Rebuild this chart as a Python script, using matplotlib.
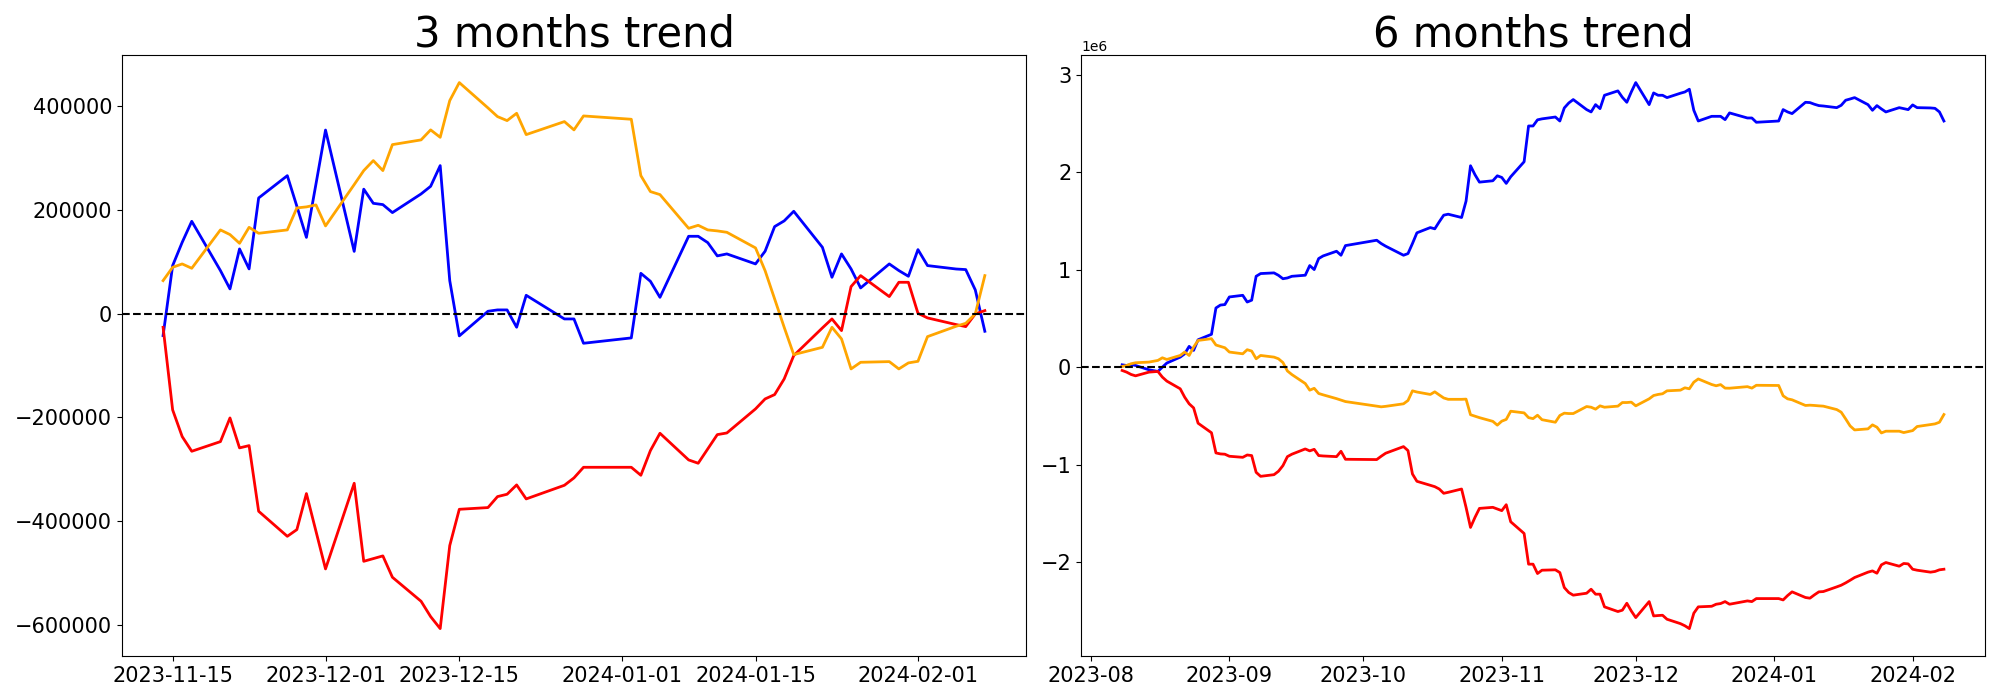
import numpy as np
import pandas as pd
import matplotlib
matplotlib.use("Agg")
import matplotlib.pyplot as plt

# market holidays (no trading -> straight segments in the chart)
holidays = ['2023-08-15', '2023-09-28', '2023-09-29', '2023-10-02', '2023-10-03',
            '2023-10-09', '2023-12-25', '2023-12-29', '2024-01-01']

dates_3m = pd.bdate_range('2023-11-14', '2024-02-08', freq='C', holidays=holidays)
dates_6m = pd.bdate_range('2023-08-08', '2024-02-08', freq='C', holidays=holidays)

# ---- 3 months ----
blue_3m = [-42400, 92600, 137500, 178000, 83000, 47600, 124700, 86200, 223000, 266000, 207000, 147000, 250000,
           354000, 120000, 240000, 212700, 210200, 194800, 230800, 245500, 285400, 63600, -43000, 4500, 7100,
           7100, -26300, 35300, -10300, -10300, -57200,
           -46900, 77700, 62300, 31400, 149100, 149100, 136900, 111300, 115100, 95800, 120200, 167800, 178800,
           197300, 127900, 70000, 115100, 86100, 49500, 95800, 83000, 72000,
           123400, 92600, 86000, 84900, 45700, -34100]
orange_3m = [63600, 89300, 95800, 87400, 161400, 152400, 135600, 166400, 154900, 161400, 203800, 205800, 209600,
             169100, 248800, 275800, 295100, 275800, 325900, 335000, 354300, 340000, 410800, 445500, 396700, 379900,
             372200, 386300, 345200, 370300, 354300, 381200,
             374800, 266100, 235300, 229500, 164500, 170300, 161400, 159500, 156800, 126700, 82900, 28300, -26400,
             -79100, -65000, -26400, -48800, -106700, -93900, -92600, -106700, -95100,
             -92000, -44400, -24400, -18700, -600, 73300]
red_3m = [-26400, -185700, -237200, -265500, -246900, -201200, -259000, -254600, -381200, -429500, -416600, -347100,
          -419800,
          -492400, -327200, -477700, -472500, -467300, -508500, -554800, -584400, -607500, -447400, -377400, -374100,
          -352900, -348400, -330400, -357400, -331100, -316900, -296400,
          -296400, -311800, -264200, -230800, -282200, -288600, -261000, -233400, -230200, -183800, -164600, -156200,
          -126000, -81000, -27600, -10300, -32800, 52100, 73300, 32800, 60400, 60400,
          600, -8300, -21200, -25100, -600, 5800]

# ---- 6 months ----
blue_6m = [27000, 20000, 30000, 20000, -24000, -41000, 3000, 45000, 106000, 140000, 216000, 175000, 284000,
           340000, 610000, 640000, 645000,
           723000, 740000, 671000, 690000, 935000, 963000, 970000, 945000, 910000, 918000, 935000, 946000,
           1045000, 1004000, 1117000, 1144000, 1192000, 1151000, 1250000,
           1305000, 1271000, 1244000, 1151000, 1168000, 1271000, 1381000, 1435000, 1422000, 1494000, 1562000,
           1572000, 1538000, 1706000, 2069000, 1977000, 1901000, 1915000, 1966000,
           1949000, 1888000, 1956000, 2110000, 2477000, 2477000, 2540000, 2550000, 2569000, 2528000, 2662000,
           2713000, 2748000, 2645000, 2621000, 2696000, 2655000, 2792000, 2837000, 2771000, 2720000, 2826000,
           2922000, 2696000, 2816000, 2792000, 2792000, 2768000, 2813000, 2826000, 2854000, 2638000, 2528000,
           2576000, 2576000, 2576000, 2542000, 2611000, 2559000, 2559000, 2515000,
           2528000, 2645000, 2621000, 2604000, 2720000, 2717000, 2700000, 2686000, 2682000, 2665000, 2689000,
           2741000, 2754000, 2768000, 2696000, 2638000, 2686000, 2652000, 2621000, 2665000, 2655000, 2645000,
           2693000, 2665000, 2662000, 2658000, 2621000, 2528000]
orange_6m = [10000, 20000, 38000, 48000, 55000, 72000, 99000, 82000, 123000, 158000, 123000, 209000, 277000,
             295000, 230000, 216000, 202000,
             158000, 140000, 182000, 168000, 89000, 123000, 106000, 89000, 50000, -36000, -73000, -165000,
             -233000, -214000, -267000, -281000, -320000, -335000, -350000,
             -397000, -404000, -399000, -373000, -339000, -240000, -252000, -277000, -250000, -282000, -313000,
             -327000, -327000, -325000, -485000, -500000, -515000, -553000, -592000,
             -551000, -533000, -449000, -466000, -515000, -525000, -490000, -536000, -562000, -493000, -469000,
             -473000, -473000, -401000, -408000, -428000, -394000, -408000, -397000, -360000, -360000, -356000,
             -394000, -322000, -288000, -277000, -270000, -240000, -233000, -209000, -219000, -151000, -118000,
             -175000, -188000, -176000, -212000, -213000, -197000, -212000, -183000,
             -185000, -291000, -322000, -332000, -390000, -387000, -390000, -394000, -397000, -432000, -459000,
             -528000, -600000, -641000, -630000, -589000, -613000, -672000, -654000, -654000, -668000, -658000,
             -648000, -606000, -586000, -579000, -562000, -483000]
red_6m = [-31000, -48000, -72000, -86000, -48000, -41000, -99000, -140000, -219000, -305000, -373000, -415000,
          -572000, -670000, -877000, -887000, -890000,
          -911000, -922000, -898000, -904000, -1076000, -1117000, -1100000, -1065000, -1007000, -915000, -890000,
          -836000, -856000, -840000, -904000, -908000, -915000, -860000, -942000,
          -945000, -911000, -880000, -812000, -853000, -1093000, -1168000, -1209000, -1223000, -1247000, -1291000,
          -1281000, -1247000, -1435000, -1641000, -1538000, -1446000, -1435000, -1452000,
          -1469000, -1408000, -1583000, -1703000, -2018000, -2018000, -2114000, -2080000, -2076000, -2104000,
          -2258000, -2309000, -2336000, -2316000, -2275000, -2326000, -2326000, -2456000, -2504000, -2490000,
          -2419000, -2498000,
          -2566000, -2402000, -2549000, -2545000, -2542000, -2583000, -2628000, -2650000, -2679000, -2521000,
          -2456000, -2450000, -2429000, -2422000, -2402000, -2429000, -2395000, -2402000, -2371000,
          -2371000, -2385000, -2340000, -2302000, -2360000, -2367000, -2333000, -2302000, -2299000, -2251000,
          -2234000, -2210000, -2183000, -2155000, -2100000, -2087000, -2111000, -2025000, -2001000, -2039000,
          -2011000, -2015000,
          -2070000, -2080000, -2100000, -2093000, -2076000, -2070000]

fig, (ax1, ax2) = plt.subplots(1, 2, figsize=(20, 7), dpi=100)

for ax, d, b, o, r, title in [(ax1, dates_3m, blue_3m, orange_3m, red_3m, '3 months trend'),
                              (ax2, dates_6m, blue_6m, orange_6m, red_6m, '6 months trend')]:
    ax.plot(d, b, color='blue', lw=2)
    ax.plot(d, r, color='red', lw=2)
    ax.plot(d, o, color='orange', lw=2)
    ax.axhline(0, color='black', linestyle='--', lw=1.5)
    ax.set_title(title, fontsize=30)
    ax.tick_params(axis='both', labelsize=15)

fig.subplots_adjust(left=0.061, right=0.9925, bottom=0.063, top=0.921, wspace=0.061)
plt.savefig('out.png')
